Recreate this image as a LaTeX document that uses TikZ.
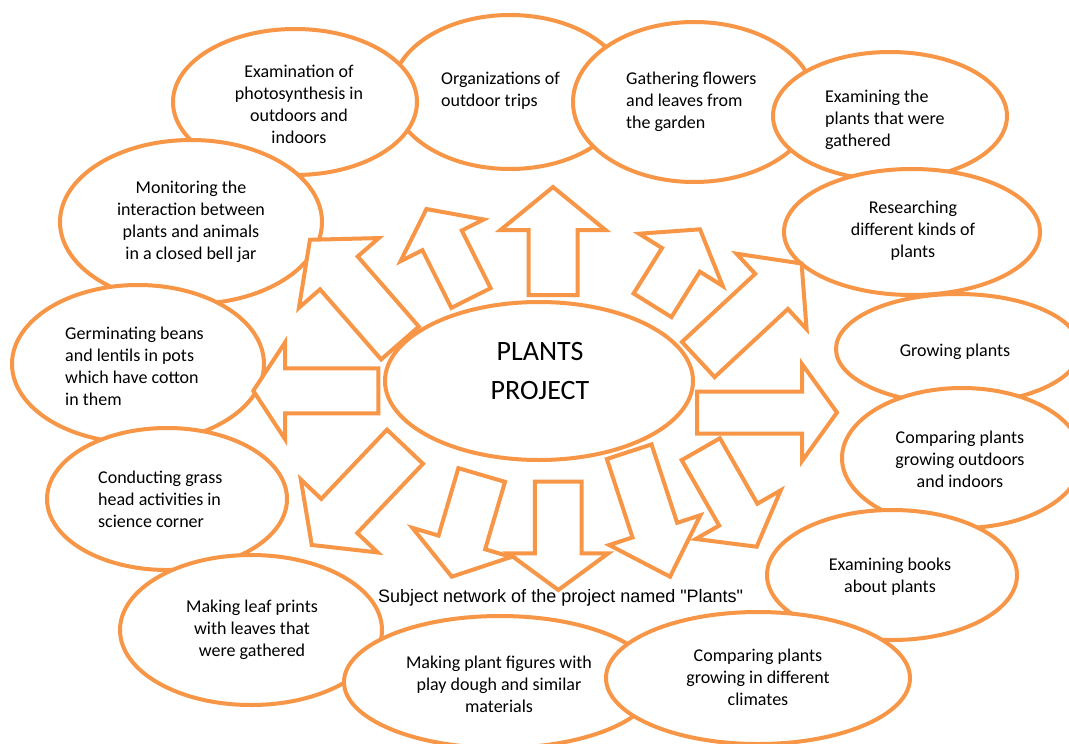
\documentclass[tikz,border=0pt]{standalone}
\usepackage{fontspec}
\setmainfont{Carlito}
\newfontfamily\capfont{Liberation Sans}
\usetikzlibrary{shapes.geometric}
\definecolor{orng}{HTML}{F79646}
\tikzset{
  bub/.style={ellipse, draw=orng, line width=4pt, fill=white, inner sep=0pt},
  txt/.style={inner sep=0pt, font=\fontsize{18}{22}\selectfont, text=black},
  blk/.style={draw=orng, line width=4pt, fill=white, line join=miter},
}
% base x, base y, angle, length, shaft half width, head half width, head length
\newcommand\blkarrow[7]{%
  \begin{scope}[shift={(#1,#2)}, rotate=#3]
    \draw[blk] (0,-#5) -- ({#4-#7},-#5) -- ({#4-#7},-#6) -- (#4,0) -- ({#4-#7},#6) -- ({#4-#7},#5) -- (0,#5) -- cycle;
  \end{scope}}
\begin{document}
\begin{tikzpicture}[x=1pt,y=-1pt]
\useasboundingbox[fill=white] (0,0) rectangle (1069,744);
% outer ellipses (drawing order matters for overlaps)
\node[bub, minimum width=236, minimum height=154] (org) at (510,92) {};
\node[bub, minimum width=244, minimum height=146] (exa) at (295,102) {};
\node[bub, minimum width=262, minimum height=164] (mon) at (191,222) {};
\node[bub, minimum width=252, minimum height=158] (ger) at (138,364) {};
\node[bub, minimum width=240, minimum height=142] (con) at (167,499) {};
\node[bub, minimum width=262, minimum height=150] (lea) at (251,630) {};
\node[bub, minimum width=242, minimum height=160] (gat) at (694,102) {};
\node[bub, minimum width=234, minimum height=128] (exp) at (890,116) {};
\node[bub, minimum width=256, minimum height=126] (res) at (912,232) {};
\node[bub, minimum width=244, minimum height=110] (gro) at (958,349) {};
\node[bub, minimum width=240, minimum height=140] (cou) at (962,458) {};
\node[bub, minimum width=250, minimum height=130] (boo) at (892,575) {};
\node[bub, minimum width=312, minimum height=132] (fig) at (500,682) {};
\node[bub, minimum width=304, minimum height=132] (cli) at (758,678) {};
% block arrows
\blkarrow{553}{295}{90}{108}{24.5}{52.5}{43}
\blkarrow{471}{298}{116.6}{99.5}{22}{46.5}{35}
\blkarrow{400}{343}{131.1}{137}{25}{53}{44}
\blkarrow{652.5}{305.3}{58}{89.6}{22.3}{49.3}{36}
\blkarrow{698.3}{359.5}{42.9}{141}{24}{51.5}{41}
\blkarrow{697}{412.5}{0}{140}{21}{48.5}{35}
\blkarrow{700.8}{449.2}{-60.2}{112.4}{22}{49}{37}
\blkarrow{629.2}{451.7}{-71.9}{131.5}{23.5}{48}{49}
\blkarrow{558.3}{481.7}{-90}{108.3}{23.4}{50}{36.7}
\blkarrow{481.7}{475}{-106.4}{106}{24.3}{51.5}{35.7}
\blkarrow{405}{446.7}{-133.5}{135.5}{24.8}{53}{40}
\blkarrow{378.3}{390.8}{180}{125}{22.5}{48.3}{31.7}
% centre
\node[bub, minimum width=308, minimum height=158] (ctr) at (539,381) {};
% texts
\node[txt, font=\fontsize{28}{39}\selectfont, align=center] (ctr-t) at (540,371) {PLANTS\\PROJECT};
\node[txt, align=center] (exa-t) at (299,104) {Examination of\\photosynthesis in\\outdoors and\\indoors};
\node[txt, align=left, anchor=west] (org-t) at (441,91) {Organizations of\\outdoor trips};
\node[txt, align=left, anchor=west] (gat-t) at (626,102) {Gathering flowers\\and leaves from\\the garden};
\node[txt, align=left, anchor=west] (exp-t) at (825,120) {Examining the\\plants that were\\gathered};
\node[txt, align=center] (res-t) at (913,231) {Researching\\different kinds of\\plants};
\node[txt] (gro-t) at (955,352) {Growing plants};
\node[txt, align=center] (cou-t) at (960,459) {Comparing plants\\growing outdoors\\and indoors};
\node[txt, align=center] (boo-t) at (890,577) {Examining books\\about plants};
\node[txt, align=center] (cli-t) at (758,677) {Comparing plants\\growing in different\\climates};
\node[txt, align=center] (fig-t) at (499,684) {Making plant figures with\\play dough and similar\\materials};
\node[txt, align=center] (lea-t) at (252,630) {Making leaf prints\\with leaves that\\were gathered};
\node[txt, align=left, anchor=west] (con-t) at (98,499) {Conducting grass\\head activities in\\science corner};
\node[txt, align=left, anchor=west] (ger-t) at (65,366) {Germinating beans\\and lentils in pots\\which have cotton\\in them};
\node[txt, align=center] (mon-t) at (191,222) {Monitoring the\\interaction between\\plants and animals\\in a closed bell jar};
\node[inner sep=0pt, anchor=west, font=\capfont\fontsize{18}{22}\selectfont] (cap) at (378,598) {Subject network of the project named "Plants"};
\end{tikzpicture}
\end{document}
